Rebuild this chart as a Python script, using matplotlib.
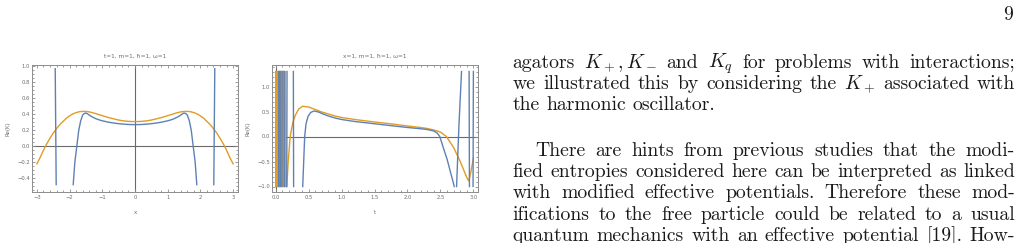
import re
import numpy as np
import matplotlib
matplotlib.use("Agg")
import matplotlib.pyplot as plt
from matplotlib.ticker import MultipleLocator

nan = np.nan

# ---- left panel: Re(K) against x ----
left_x_orange = [-3.0, -2.9, -2.8, -2.7, -2.6, -2.5, -2.4, -2.3, -2.2, -2.1, -2.0,
                 -1.9, -1.8, -1.7, -1.6, -1.5, -1.4, -1.3, -1.2, -1.1, -1.0,
                 -0.9, -0.8, -0.7, -0.6, -0.5, -0.4, -0.3, -0.2, -0.1, 0.0,
                 0.1, 0.2, 0.3, 0.4, 0.5, 0.6, 0.7, 0.8, 0.9, 1.0,
                 1.1, 1.2, 1.3, 1.4, 1.5, 1.6, 1.7, 1.8, 1.9, 2.0,
                 2.1, 2.2, 2.3, 2.4, 2.5, 2.6, 2.7, 2.8, 2.9, 3.0]
left_y_orange = [-0.22, -0.14, -0.05, 0.03, 0.10, 0.165, 0.22, 0.27, 0.31, 0.35, 0.38,
                 0.405, 0.42, 0.432, 0.436, 0.435, 0.43, 0.42, 0.408, 0.395, 0.383,
                 0.37, 0.358, 0.347, 0.337, 0.328, 0.32, 0.315, 0.311, 0.309, 0.308,
                 0.309, 0.311, 0.315, 0.32, 0.328, 0.337, 0.347, 0.358, 0.37, 0.383,
                 0.395, 0.408, 0.42, 0.43, 0.435, 0.436, 0.432, 0.42, 0.405, 0.38,
                 0.35, 0.31, 0.27, 0.22, 0.165, 0.10, 0.03, -0.05, -0.14, -0.22]

left_x_blue = [-2.44, -2.41, nan,
               -1.89, -1.84, -1.78, -1.72, -1.66, -1.60, -1.55, -1.50, -1.45, -1.40,
               -1.30, -1.20, -1.10, -1.00, -0.80, -0.60, -0.40, -0.20, 0.0,
               0.20, 0.40, 0.60, 0.80, 1.00, 1.10, 1.20, 1.30, 1.40, 1.45, 1.50,
               1.55, 1.60, 1.66, 1.72, 1.78, 1.84, 1.89, nan,
               2.41, 2.44]
left_y_blue = [0.97, -0.48, nan,
               -0.48, -0.20, 0.0, 0.20, 0.32, 0.39, 0.41, 0.415, 0.405, 0.39,
               0.365, 0.345, 0.33, 0.318, 0.30, 0.287, 0.278, 0.272, 0.27,
               0.272, 0.278, 0.287, 0.30, 0.318, 0.33, 0.345, 0.365, 0.39, 0.405, 0.415,
               0.41, 0.39, 0.32, 0.20, 0.0, -0.20, -0.48, nan,
               -0.48, 0.97]

# ---- right panel: Re(K) against t ----
right_t_orange = [0.000, 0.004, 0.008, 0.012, 0.016, 0.020, 0.024, 0.028, 0.032, 0.036,
                  0.040, 0.044, 0.048, 0.052, 0.056, 0.060, 0.064, 0.068, 0.072, 0.076,
                  0.080, 0.084, 0.088, 0.092, 0.096, 0.100, 0.104, 0.108, 0.112, 0.116,
                  0.120, 0.124, 0.128, 0.132, 0.136, 0.140, 0.144, 0.156, nan,
                  0.168, 0.19, 0.22, 0.26, 0.30, 0.35, 0.41, 0.50, 0.60, 0.70, 0.80,
                  0.90, 1.00, 1.20, 1.50, 1.80, 2.00, 2.20, 2.30, 2.40, 2.50, 2.59,
                  2.70, 2.80, 2.90, 2.93, 2.96, 3.00]
right_y_orange = [1.3, -1.0, 1.3, -1.0, 1.3, -1.0, 1.3, -1.0, 1.3, -1.0,
                  1.3, -1.0, 1.3, -1.0, 1.3, -1.0, 1.3, -1.0, 1.3, -1.0,
                  1.3, -1.0, 1.3, -1.0, 1.3, -1.0, 1.3, -1.0, 1.3, -1.0,
                  1.3, -1.0, 1.3, -1.0, 1.3, -1.0, 1.3, -1.0, nan,
                  -1.0, -0.5, 0.0, 0.28, 0.43, 0.55, 0.605, 0.59, 0.54, 0.49, 0.45,
                  0.41, 0.38, 0.34, 0.29, 0.245, 0.21, 0.18, 0.16, 0.13, 0.09, 0.0,
                  -0.22, -0.5, -0.82, -0.89, -0.72, -0.44]

right_t_blue = [0.045, 0.047, nan, 0.068, 0.070, nan, 0.095, 0.098, nan,
                0.128, 0.131, nan, 0.168, 0.172, nan, 0.268, 0.272, nan,
                0.41, 0.425, 0.44, 0.46, 0.49, 0.53, 0.58, 0.65, 0.70, 0.80, 0.90,
                1.00, 1.20, 1.50, 1.80, 2.00, 2.20, 2.30, 2.40, 2.45, 2.49, 2.55,
                2.60, 2.65, 2.70, 2.71, nan, 2.745, 2.78, 2.82, nan,
                2.935, 2.94, nan, 2.995, 3.0]
right_y_blue = [-1.0, 1.3, nan, 1.3, -1.0, nan, -1.0, 1.3, nan,
                1.3, -1.0, nan, -1.0, 1.3, nan, 1.3, -1.0, nan,
                -1.0, -0.5, 0.0, 0.25, 0.40, 0.48, 0.51, 0.49, 0.46, 0.41, 0.37,
                0.34, 0.30, 0.255, 0.21, 0.18, 0.155, 0.14, 0.11, 0.07, 0.0, -0.25,
                -0.45, -0.70, -0.95, -1.0, nan, -1.0, 0.2, 1.3, nan,
                1.3, -1.0, nan, -1.0, 1.3]

left_title = "t=1, m=1, \u0127=1, \u03c9=1"
right_title = "x=1, m=1, \u0127=1, \u03c9=1"

# ---- text column on the right ----
page_number = "9"
para1 = ["agators $K_+, K_-$ and $K_q$ for problems with interactions;",
         "we illustrated this by considering the $K_+$ associated with",
         "the harmonic oscillator."]
para2 = ["There are hints from previous studies that the modi-",
         "fied entropies considered here can be interpreted as linked",
         "with modified effective potentials. Therefore these mod-",
         "ifications to the free particle could be related to a usual",
         "quantum mechanics with an effective potential [19]. How-"]

BLUE = "#5E81B5"
ORANGE = "#E19C24"
FRAME = "#8c8c8c"
TICKTXT = "#6e6e6e"
AXIS = "#6a6a6a"

W, H = 1019, 243
plt.rcParams["mathtext.fontset"] = "cm"
fig = plt.figure(figsize=(W / 100, H / 100), dpi=100)


def style_axes(ax, xmaj, xmin, ymaj, ymin):
    for s in ax.spines.values():
        s.set_color(FRAME)
        s.set_linewidth(0.7)
    ax.xaxis.set_major_locator(MultipleLocator(xmaj))
    ax.xaxis.set_minor_locator(MultipleLocator(xmin))
    ax.yaxis.set_major_locator(MultipleLocator(ymaj))
    ax.yaxis.set_minor_locator(MultipleLocator(ymin))
    ax.tick_params(which="both", direction="in", top=True, right=True,
                   color=FRAME, width=0.6, labelsize=3.8, labelcolor=TICKTXT)
    ax.tick_params(which="major", length=2.4)
    ax.tick_params(which="minor", length=1.2)
    ax.tick_params(axis="x", pad=2.2)
    ax.tick_params(axis="y", pad=1.4)
    ax.set_ylabel("Re(K)", fontsize=4, color=TICKTXT)
    ax.yaxis.set_label_coords(-0.105, 0.5)


# left panel
ax1 = fig.add_axes([32 / W, 1 - 191.5 / H, 206 / W, 126.5 / H])
ax1.axhline(0, color=AXIS, lw=0.8, zorder=1)
ax1.axvline(0, color=AXIS, lw=0.8, zorder=1)
ax1.plot(left_x_orange, left_y_orange, color=ORANGE, lw=1.0, zorder=2)
ax1.plot(left_x_blue, left_y_blue, color=BLUE, lw=1.0, zorder=3)
ax1.set_xlim(-3.15, 3.15)
ax1.set_ylim(-0.566, 1.016)
style_axes(ax1, 1, 0.2, 0.2, 0.05)
ax1.set_xlabel("x", fontsize=4, color=TICKTXT)
ax1.xaxis.set_label_coords(0.5, -0.15)
ax1.set_title(left_title, fontsize=4.2, color=TICKTXT, pad=5)

# right panel
ax2 = fig.add_axes([272 / W, 1 - 191.5 / H, 206 / W, 126.5 / H])
ax2.axhline(0, color=AXIS, lw=0.8, zorder=1)
ax2.axvline(0, color=AXIS, lw=0.8, zorder=1)
ax2.plot(right_t_orange, right_y_orange, color=ORANGE, lw=1.0, zorder=2)
ax2.plot(right_t_blue, right_y_blue, color=BLUE, lw=1.0, zorder=3)
ax2.set_xlim(-0.056, 3.07)
ax2.set_ylim(-1.1, 1.43)
style_axes(ax2, 0.5, 0.1, 0.5, 0.1)
ax2.set_xlabel("t", fontsize=4, color=TICKTXT)
ax2.xaxis.set_label_coords(0.5, -0.15)
ax2.set_title(right_title, fontsize=4.2, color=TICKTXT, pad=5)

# text column, justified like the LaTeX page
FS = 14.2
renderer = fig.canvas.get_renderer()
x_left, x_right = 512.5, 1015.0
indent = 22.5
space = 0.333 * FS * 100 / 72


def put_line(line, y, x0, justify):
    words = re.findall(r"(?:\$[^$]*\$|[^\s$])+", line)
    texts = [fig.text(0, 1 - y / H, w, fontsize=FS, family="cmr10",
                      va="baseline", ha="left", color="#1a1a1a") for w in words]
    widths = [t.get_window_extent(renderer).width for t in texts]
    gap = (x_right - x0 - sum(widths)) / (len(words) - 1) if justify else space
    x = x0
    for t, w in zip(texts, widths):
        t.set_x(x / W)
        x += w + gap


fig.text(1013 / W, 1 - 20 / H, page_number, fontsize=FS, family="cmr10",
         ha="right", va="baseline", color="#1a1a1a")

y = 67.5
for i, line in enumerate(para1):
    put_line(line, y, x_left, i < len(para1) - 1)
    y += 21.3
y = 155.8
for i, line in enumerate(para2):
    put_line(line, y, x_left + (indent if i == 0 else 0), True)
    y += 21.3

fig.savefig("out.png", dpi=100)
